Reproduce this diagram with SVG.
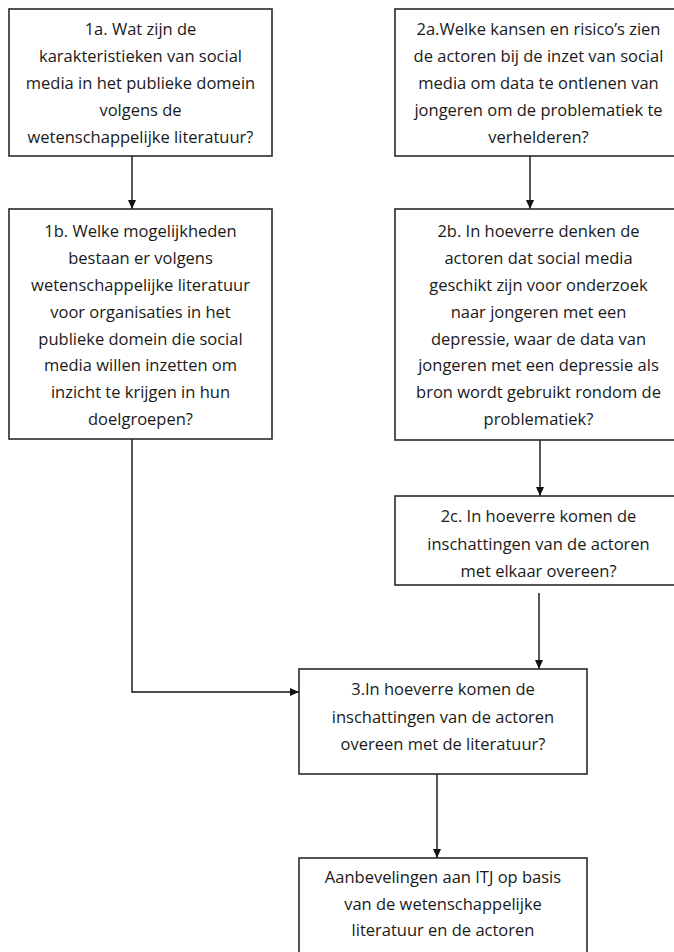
<svg xmlns="http://www.w3.org/2000/svg" width="674" height="952" viewBox="0 0 674 952">
<style>
.box{fill:#fff;stroke:#2a2a2a;stroke-width:1.6}
.t{font-family:"Open Sans","Liberation Sans",sans-serif;font-size:16.5px;fill:#1a1a1a;text-anchor:middle}
.c{fill:none;stroke:#111;stroke-width:1.4}
</style>
<defs>
<marker id="ah" markerWidth="10" markerHeight="10" refX="9" refY="4" orient="auto" markerUnits="userSpaceOnUse">
<path d="M0,0 L9,4 L0,8 Z" fill="#111"/>
</marker>
</defs>
<rect width="674" height="952" fill="#fff"/>
<g id="connectors">
<line class="c" x1="132" y1="156" x2="132" y2="209" marker-end="url(#ah)"/>
<line class="c" x1="530" y1="156" x2="530" y2="209" marker-end="url(#ah)"/>
<line class="c" x1="540" y1="440" x2="540" y2="496" marker-end="url(#ah)"/>
<line class="c" x1="539" y1="593" x2="539" y2="669" marker-end="url(#ah)"/>
<line class="c" x1="437" y1="774" x2="437" y2="858" marker-end="url(#ah)"/>
<polyline class="c" points="132,439 132,692 299,692" marker-end="url(#ah)"/>
</g>
<g id="n1a">
<rect class="box" x="9" y="9" width="263" height="147"/>
<text class="t" x="140.5" y="35">1a. Wat zijn de</text>
<text class="t" x="140.5" y="62">karakteristieken van social</text>
<text class="t" x="140.5" y="89">media in het publieke domein</text>
<text class="t" x="140.5" y="116">volgens de</text>
<text class="t" x="140.5" y="143">wetenschappelijke literatuur?</text>
</g>
<g id="n2a">
<rect class="box" x="395" y="9" width="290" height="147"/>
<text class="t" x="538.5" y="35">2a.Welke kansen en risico’s zien</text>
<text class="t" x="538.5" y="62">de actoren bij de inzet van social</text>
<text class="t" x="538.5" y="89">media om data te ontlenen van</text>
<text class="t" x="538.5" y="116">jongeren om de problematiek te</text>
<text class="t" x="538.5" y="143">verhelderen?</text>
</g>
<g id="n1b">
<rect class="box" x="9" y="209" width="263" height="230"/>
<text class="t" x="140.5" y="237">1b. Welke mogelijkheden</text>
<text class="t" x="140.5" y="264">bestaan er volgens</text>
<text class="t" x="140.5" y="291">wetenschappelijke literatuur</text>
<text class="t" x="140.5" y="318">voor organisaties in het</text>
<text class="t" x="140.5" y="344.5">publieke domein die social</text>
<text class="t" x="140.5" y="371">media willen inzetten om</text>
<text class="t" x="140.5" y="398">inzicht te krijgen in hun</text>
<text class="t" x="140.5" y="425">doelgroepen?</text>
</g>
<g id="n2b">
<rect class="box" x="395" y="209" width="290" height="231"/>
<text class="t" x="538.5" y="237">2b. In hoeverre denken de</text>
<text class="t" x="538.5" y="264">actoren dat social media</text>
<text class="t" x="538.5" y="291">geschikt zijn voor onderzoek</text>
<text class="t" x="538.5" y="318">naar jongeren met een</text>
<text class="t" x="538.5" y="344.5">depressie, waar de data van</text>
<text class="t" x="538.5" y="371">jongeren met een depressie als</text>
<text class="t" x="538.5" y="398">bron wordt gebruikt rondom de</text>
<text class="t" x="538.5" y="425">problematiek?</text>
</g>
<g id="n2c">
<rect class="box" x="395" y="496" width="290" height="89"/>
<text class="t" x="538.5" y="522">2c. In hoeverre komen de</text>
<text class="t" x="538.5" y="550">inschattingen van de actoren</text>
<text class="t" x="538.5" y="577">met elkaar overeen?</text>
</g>
<g id="n3">
<rect class="box" x="299" y="669" width="288" height="105"/>
<text class="t" x="443" y="695">3.In hoeverre komen de</text>
<text class="t" x="443" y="723">inschattingen van de actoren</text>
<text class="t" x="443" y="750">overeen met de literatuur?</text>
</g>
<g id="n4">
<rect class="box" x="299" y="858" width="288" height="110"/>
<text class="t" x="443" y="883">Aanbevelingen aan ITJ op basis</text>
<text class="t" x="443" y="910">van de wetenschappelijke</text>
<text class="t" x="443" y="936">literatuur en de actoren</text>
</g>
</svg>
